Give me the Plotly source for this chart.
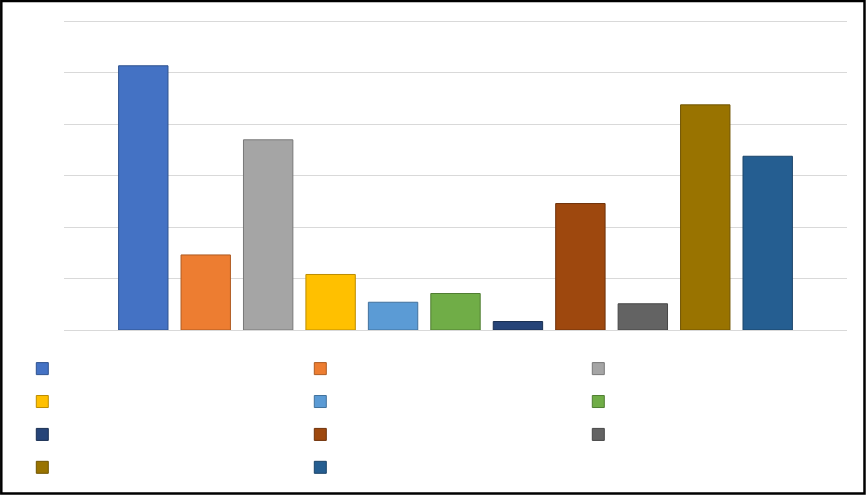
import plotly.graph_objects as go

# ---- data ----
category = [""]
series_names = ["", "", "", "", "", "", "", "", "", "", ""]
series_values = [5.14, 1.46, 3.70, 1.08, 0.54, 0.71, 0.165, 2.46, 0.51, 4.38, 3.38]
series_colors = ["#4472C4", "#ED7D31", "#A5A5A5", "#FFC000", "#5B9BD5", "#70AD47",
                 "#264478", "#9E480E", "#636363", "#997300", "#255E91"]
series_edges = ["#2F528F", "#AE5A21", "#787878", "#BC8C00", "#41719C", "#507E32",
                "#1A2F52", "#6F320A", "#474747", "#705400", "#1B4469"]
y_max = 6.05

W, H = 866, 496
L, R, B = 64, 19, 165.5
UNIT = 51.5
ph = y_max * UNIT
T = H - B - ph

fig = go.Figure()
for name, v, c, e in zip(series_names, series_values, series_colors, series_edges):
    fig.add_trace(go.Bar(x=category, y=[v], name=name,
                         marker=dict(color=c, line=dict(color=e, width=1))))

pw = W - L - R


def px(x):
    return (x - L) / pw


def py(y):
    return (H - B - y) / ph


fig.update_layout(
    width=W, height=H,
    margin=dict(l=L, r=R, t=T, b=B, pad=0, autoexpand=False),
    paper_bgcolor="white", plot_bgcolor="white",
    barmode="group", bargap=0.1228, bargroupgap=0.209,
    showlegend=True,
    legend=dict(orientation="h", xref="paper", yref="paper",
                x=px(22.3), xanchor="left", y=py(347.7), yanchor="top",
                entrywidth=233, entrywidthmode="pixels",
                font=dict(family="Arial", size=23, color="#595959"),
                bgcolor="rgba(0,0,0,0)", borderwidth=0,
                traceorder="normal", itemclick=False, itemdoubleclick=False),
    xaxis=dict(type="category", showticklabels=False, showgrid=False,
               zeroline=False, showline=True, linecolor="#D9D9D9", linewidth=1,
               ticks=""),
    yaxis=dict(range=[0, y_max], dtick=1, showticklabels=False, showgrid=True,
               gridcolor="#D9D9D9", gridwidth=1, zeroline=False, showline=False,
               ticks=""),
    shapes=[dict(type="rect", xref="paper", yref="paper",
                 x0=px(1.3), x1=px(864.5), y0=py(1.0), y1=py(494.3),
                 line=dict(color="black", width=2.5), layer="above")],
)

fig.write_html("out.html", config={"displayModeBar": False},
               post_script="document.body.style.margin='0';document.body.style.overflow='hidden';")
